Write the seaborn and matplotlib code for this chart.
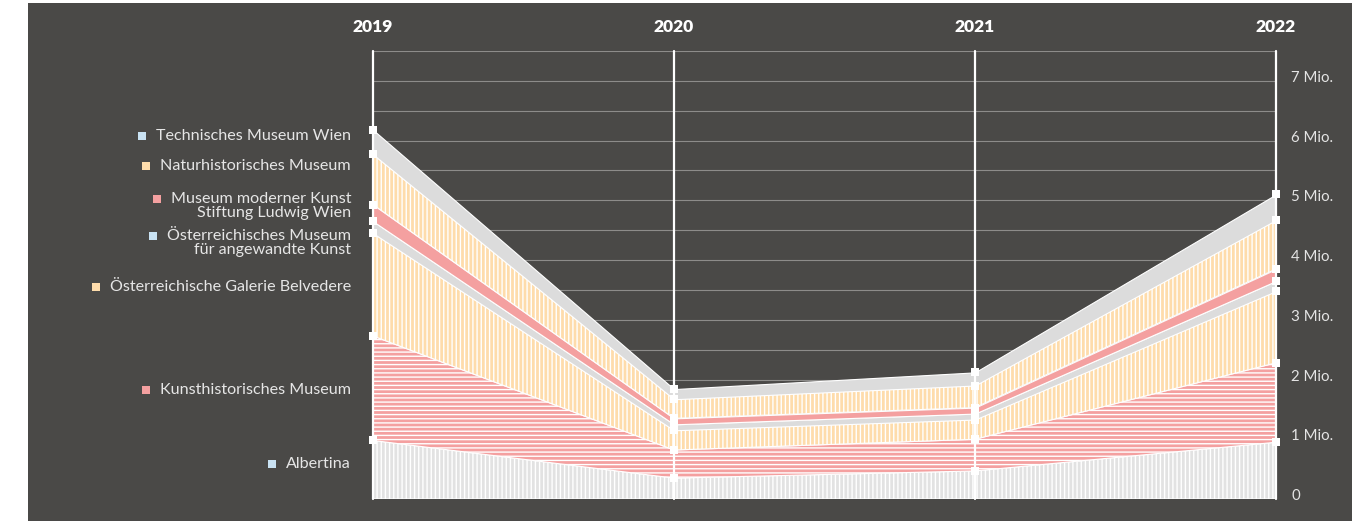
import numpy as np
import pandas as pd
import seaborn as sns
import matplotlib.pyplot as plt
from matplotlib.patches import Rectangle

# --- Daten (Besucher in Mio.) ---
years = [2019, 2020, 2021, 2022]
albertina = [0.98, 0.35, 0.47, 0.95]
khm = [1.75, 0.47, 0.53, 1.33]
belvedere = [1.72, 0.33, 0.33, 1.20]
mak = [0.20, 0.10, 0.10, 0.17]
mumok = [0.28, 0.10, 0.10, 0.20]
nhm = [0.84, 0.32, 0.37, 0.82]
tmw = [0.41, 0.17, 0.22, 0.43]

museums = [
    "Albertina",
    "Kunsthistorisches Museum",
    "Österreichische Galerie Belvedere",
    "Österreichisches Museum\nfür angewandte Kunst",
    "Museum moderner Kunst\nStiftung Ludwig Wien",
    "Naturhistorisches Museum",
    "Technisches Museum Wien",
]
tick_values = [0, 1, 2, 3, 4, 5, 6, 7]
tick_labels = ["0", "1 Mio.", "2 Mio.", "3 Mio.", "4 Mio.", "5 Mio.", "6 Mio.", "7 Mio."]

# --- Stil ---
BG = "#4a4947"
GREY, PINK, ORANGE, BLUE = "#dcdcdc", "#f4a0a0", "#fedcab", "#c9e2f3"
fill_colors = ["#e2e2e2", PINK, ORANGE, GREY, PINK, ORANGE, GREY]
hatches = ["||||", "----", "||||", None, None, "||||", None]
legend_colors = [BLUE, PINK, ORANGE, BLUE, PINK, ORANGE, BLUE]
label_y = [0.58, 1.83, 3.55, 4.28, 4.90, 5.57, 6.07]

sns.set_style("dark")
plt.rcParams["font.family"] = ["Lato", "DejaVu Sans"]
plt.rcParams["hatch.color"] = "white"
plt.rcParams["hatch.linewidth"] = 1.0

W, H = 1366, 521
fig = plt.figure(figsize=(W / 100, H / 100), dpi=100)
fig.patch.set_facecolor("white")
fig.add_artist(Rectangle((28 / W, 0), 1324 / W, 518 / H, transform=fig.transFigure,
                         facecolor=BG, edgecolor="none", zorder=-1))
ax = fig.add_axes([373 / W, 22 / H, 903 / W, 448 / H])
ax.set_facecolor("none")

# --- Gestapelte Flächen ---
series = np.vstack([albertina, khm, belvedere, mak, mumok, nhm, tmw])
tops = np.cumsum(series, axis=0)
bottoms = np.vstack([np.zeros(len(years)), tops[:-1]])
for i in range(len(museums)):
    ax.fill_between(years, bottoms[i], tops[i], facecolor=fill_colors[i],
                    edgecolor="white", hatch=hatches[i], linewidth=0.8, zorder=2)

for yr in years:
    ax.axvline(yr, color="white", lw=1.6, zorder=3, clip_on=False)

df_tops = pd.DataFrame({
    "Jahr": np.tile(years, len(museums)),
    "Mio": tops.ravel(),
})
sns.scatterplot(data=df_tops, x="Jahr", y="Mio", marker="s", color="white", s=36,
                linewidth=0, ax=ax, zorder=4, clip_on=False, legend=False)

# --- Achsen ---
ax.set_xlim(2019, 2022)
ax.set_ylim(0, 7.5)
ax.set_yticks(np.arange(0, 7.51, 0.5))
ax.yaxis.grid(True, color="#8d8c8a", linewidth=0.8)
ax.xaxis.grid(False)
ax.set_axisbelow(True)
ax.tick_params(left=False, bottom=False, labelleft=False, labelbottom=False)
ax.set_xlabel("")
ax.set_ylabel("")
for s in ax.spines.values():
    s.set_visible(False)

for yr in years:
    ax.annotate(str(yr), xy=(yr, 1), xycoords=("data", "axes fraction"),
                xytext=(0, 24), textcoords="offset pixels", ha="center", va="center",
                color="white", fontsize=12.5, fontweight="heavy")

for v, lab in zip(tick_values, tick_labels):
    ax.annotate(lab, xy=(1, v), xycoords=("axes fraction", "data"),
                xytext=(15, 3), textcoords="offset pixels", ha="left", va="center",
                color="#e4e4e4", fontsize=10.8)

# --- Beschriftung links mit Farbkästchen ---
label_texts = []
for name, yv in zip(museums, label_y):
    t = ax.annotate(name, xy=(0, yv), xycoords=("axes fraction", "data"),
                    xytext=(-22, 0), textcoords="offset pixels", ha="right", va="center",
                    color="#e6e6e6", fontsize=11.6, linespacing=0.98, multialignment="right")
    label_texts.append(t)

fig.canvas.draw()
renderer = fig.canvas.get_renderer()
for t, name, col in zip(label_texts, museums, legend_colors):
    bb = t.get_window_extent(renderer)
    if "\n" in name:
        yc = bb.y1 - bb.height / 4
    else:
        yc = (bb.y0 + bb.y1) / 2
    sq = 8
    x0 = bb.x0 - 10 - sq
    fig.add_artist(Rectangle((x0 / W, (yc - sq / 2) / H), sq / W, sq / H,
                             transform=fig.transFigure, facecolor=col,
                             edgecolor="none", zorder=5))

fig.savefig("out.png", dpi=100, facecolor=fig.get_facecolor())
